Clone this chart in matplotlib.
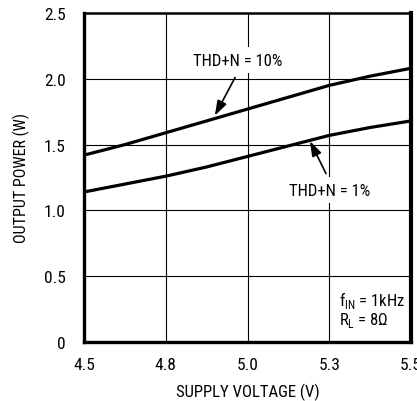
import matplotlib
matplotlib.use("Agg")
import matplotlib.pyplot as plt

plt.rcParams["font.family"] = ["Roboto Condensed", "DejaVu Sans"]

# Output power vs supply voltage, f_IN = 1kHz, R_L = 8 ohm
supply_v = [4.5, 4.625, 4.75, 4.875, 5.0, 5.125, 5.25, 5.375, 5.5]
pout_thd10 = [1.42, 1.50, 1.59, 1.68, 1.77, 1.86, 1.95, 2.02, 2.08]
pout_thd1 = [1.14, 1.20, 1.26, 1.33, 1.41, 1.49, 1.57, 1.63, 1.68]

x_ticks = [4.5, 4.75, 5.0, 5.25, 5.5]
x_labels = ["4.5", "4.8", "5.0", "5.3", "5.5"]
y_ticks = [0, 0.5, 1.0, 1.5, 2.0, 2.5]
y_labels = ["0", "0.5", "1.0", "1.5", "2.0", "2.5"]

fig = plt.figure(figsize=(4.17, 4.02), dpi=100)
ax = fig.add_axes([84/417, 1 - 343/402, 327/417, 329/402])

ax.plot(supply_v, pout_thd10, color="black", lw=2.3, solid_capstyle="butt", zorder=3)
ax.plot(supply_v, pout_thd1, color="black", lw=2.3, solid_capstyle="butt", zorder=3)

ax.set_xlim(4.5, 5.5)
ax.set_ylim(0, 2.5)
ax.set_xticks(x_ticks, x_labels)
ax.set_yticks(y_ticks, y_labels)
ax.tick_params(length=0, labelsize=12.5, pad=11)
ax.tick_params(axis="y", pad=13)
ax.grid(color="black", lw=0.8)
ax.set_axisbelow(True)

for side, w in (("left", 2.4), ("bottom", 2.4), ("right", 3.0), ("top", 1.8)):
    ax.spines[side].set_linewidth(w)

ax.set_xlabel("SUPPLY VOLTAGE (V)", fontsize=12, va="center")
ax.xaxis.set_label_coords(0.5, -49/329)
ax.set_ylabel("OUTPUT POWER (W)", fontsize=11.5, va="center")
ax.yaxis.set_label_coords(-63/327, 0.5)

# curve labels sit on white boxes that break the grid; arrows drawn separately
box = dict(facecolor="white", edgecolor="none", pad=4)
arrow = dict(arrowstyle="-|>,head_length=0.9,head_width=0.3", color="black",
             lw=1.2, shrinkA=0, shrinkB=0)
ax.text(4.97, 2.14, "THD+N = 10%", fontsize=12, ha="center", va="center",
        bbox=box, zorder=4)
ax.annotate("", xy=(4.90, 1.72), xytext=(4.962, 2.01), arrowprops=arrow, zorder=4)
ax.text(5.252, 1.155, "THD+N = 1%", fontsize=12, ha="center", va="center",
        bbox=box, zorder=4)
ax.annotate("", xy=(5.191, 1.527), xytext=(5.24, 1.28), arrowprops=arrow, zorder=4)

ax.text(5.28, 0.25, "f$_{\\mathregular{IN}}$ = 1kHz\nR$_{\\mathregular{L}}$ = 8\u03a9",
        fontsize=12, ha="left", va="center", linespacing=0.95, zorder=4)

fig.savefig("out.png")
